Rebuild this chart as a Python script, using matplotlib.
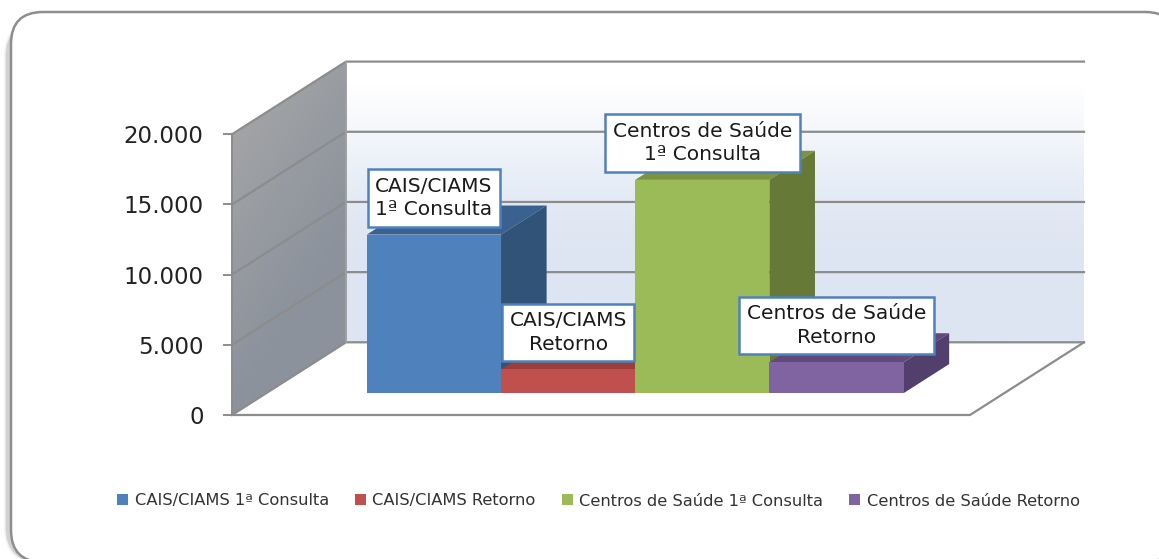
import matplotlib
matplotlib.use("Agg")
import matplotlib.pyplot as plt
import numpy as np
from matplotlib.patches import FancyBboxPatch, Patch, Polygon

categorias = ["CAIS/CIAMS 1ª Consulta", "CAIS/CIAMS Retorno",
              "Centros de Saúde 1ª Consulta", "Centros de Saúde Retorno"]
rotulos = ["CAIS/CIAMS\n1ª Consulta", "CAIS/CIAMS\nRetorno",
           "Centros de Saúde\n1ª Consulta", "Centros de Saúde\nRetorno"]
valores = [11300, 1700, 15200, 2200]
y_ticks = [0, 5000, 10000, 15000, 20000]
y_labels = ["0", "5.000", "10.000", "15.000", "20.000"]

cor_frente = ["#4F81BD", "#C0504D", "#9BBB59", "#8064A2"]
cor_lado = ["#325378", "#7A2F2E", "#667936", "#533F6B"]
cor_topo = ["#3A618F", "#9B3E3B", "#7B9441", "#60497C"]
cor_grade = "#8C8C8C"

W, H = 1159, 559
fig = plt.figure(figsize=(W / 100, H / 100), dpi=100)

# moldura arredondada, sai da imagem a direita e embaixo
bg = fig.add_axes([0, 0, 1, 1])
bg.set_xlim(0, W)
bg.set_ylim(H, 0)
bg.axis("off")
for lw, alpha in [(6, 0.05), (4, 0.08), (3, 0.12)]:
    bg.add_patch(FancyBboxPatch((8, 24), 1170, 536, boxstyle="round,pad=0,rounding_size=32",
                                fc="none", ec="#404040", lw=lw, alpha=alpha))
bg.add_patch(FancyBboxPatch((11, 12), 1166, 550, boxstyle="round,pad=0,rounding_size=32",
                            fc="white", ec="#8E8E8E", lw=1.8))

# eixo do plano da frente
ax = fig.add_axes([232 / W, (H - 415) / H, 738 / W, 280.7 / H])
ax.patch.set_visible(False)
x_ini, x_fim = -1.25, 4.25
y_max = 20000
prof_x = 114 / (738 / (x_fim - x_ini))  # profundidade total em unidades do eixo
prof_y = 72.7 / (280.7 / y_max)


def proj(x, y, d):
    return x + d * prof_x, y + d * prof_y


def face(pontos, **kw):
    ax.add_patch(Polygon([proj(*p) for p in pontos], closed=True, clip_on=False, **kw))


# parede do fundo
fundo = ["#FFFFFF", "#F4F7FB", "#E8EEF7", "#E0E7F3", "#DDE5F2", "#DDE5F2"]
rgb = np.array([matplotlib.colors.to_rgb(c) for c in fundo]).reshape(-1, 1, 3)
x0, y0 = proj(x_ini, 0, 1)
x1, y1 = proj(x_fim, y_max, 1)
ax.imshow(rgb, extent=(x0, x1, y0, y1), aspect="auto", origin="upper",
          interpolation="bilinear", clip_on=False, zorder=1)

# parede lateral
gx, gy = np.meshgrid(np.linspace(0, 1, 40), np.linspace(0, 1, 40))
t = np.clip(gx * 0.5 + gy, 0, 1)[..., None]
lateral = (1 - t) * np.array(matplotlib.colors.to_rgb("#A8A8A8")) + t * np.array(matplotlib.colors.to_rgb("#8B929C"))
xl0, _ = proj(x_ini, 0, 0)
xl1, _ = proj(x_ini, 0, 1)
_, yl1 = proj(x_ini, y_max, 1)
im = ax.imshow(lateral, extent=(xl0, xl1, 0, yl1), aspect="auto", origin="upper",
               interpolation="bilinear", zorder=1)
clip = Polygon([proj(x_ini, 0, 0), proj(x_ini, 0, 1), proj(x_ini, y_max, 1), proj(x_ini, y_max, 0)],
               closed=True, transform=ax.transData)
im.set_clip_box(fig.bbox)
im.set_clip_path(clip)

# linhas de grade
for v in y_ticks:
    a = proj(x_ini, v, 0)
    b = proj(x_ini, v, 1)
    c = proj(x_fim, v, 1)
    ax.plot([a[0], b[0], c[0]], [a[1], b[1], c[1]], color=cor_grade, lw=1.6, clip_on=False, zorder=2)
# bordas da parede e do chao
a, b = proj(x_ini, 0, 1), proj(x_ini, y_max, 1)
ax.plot([a[0], b[0]], [a[1], b[1]], color="#A0A0A0", lw=1.4, clip_on=False, zorder=2)
ax.plot([x_ini, x_ini], [0, y_max], color=cor_grade, lw=1.4, clip_on=False, zorder=2)
b = proj(x_fim, 0, 1)
ax.plot([x_ini, x_fim, b[0]], [0, 0, b[1]], color=cor_grade, lw=1.6, clip_on=False, zorder=2)

# barras, da esquerda para a direita
d0, d1 = 0.3, 0.7
for i, v in enumerate(valores):
    xa, xb = i - 0.5, i + 0.5
    face([(xa, v, d0), (xb, v, d0), (xb, v, d1), (xa, v, d1)], fc=cor_topo[i], ec="none", zorder=3 + i)
    face([(xb, 0, d0), (xb, 0, d1), (xb, v, d1), (xb, v, d0)], fc=cor_lado[i], ec="none", zorder=3 + i)
    face([(xa, 0, d0), (xb, 0, d0), (xb, v, d0), (xa, v, d0)], fc=cor_frente[i], ec="none", zorder=3 + i)

# rotulos dos dados
for i, v in enumerate(valores):
    ax.annotate(rotulos[i], xy=proj(i, v, d0), xytext=(0, 26.5), textcoords="offset points",
                ha="center", va="center", multialignment="center", fontsize=14.5,
                linespacing=1.3, color="#1A1A1A", zorder=20, annotation_clip=False,
                bbox=dict(boxstyle="square,pad=0.38", fc="white", ec="#4F81BD", lw=1.8))

ax.set_xlim(x_ini, x_fim)
ax.set_ylim(0, y_max)
ax.set_xticks([])
ax.set_yticks(y_ticks)
ax.set_yticklabels(y_labels, fontsize=16.5, color="#222222")
ax.tick_params(axis="y", length=6.5, width=1.4, color=cor_grade, pad=14)
for s in ax.spines.values():
    s.set_visible(False)

handles = [Patch(fc=c, ec="none") for c in cor_frente]
fig.legend(handles, categorias, loc="center", bbox_to_anchor=(598.5 / W, (H - 501) / H), ncol=4,
           frameon=False, fontsize=11.7, handlelength=0.68, handleheight=0.68, handletextpad=0.4,
           columnspacing=1.6, labelcolor="#333333")

fig.savefig("out.png", dpi=100)
